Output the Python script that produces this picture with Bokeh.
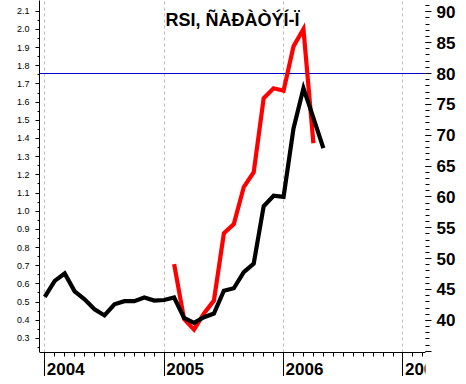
from bokeh.plotting import figure
from bokeh.layouts import column
from bokeh.models import (Range1d, LinearAxis, FixedTicker, Span, Label, Grid,
                          PrintfTickFormatter)
from bokeh.core.properties import value
from bokeh.embed import file_html
from bokeh.resources import INLINE

# ---- data ----
title_text = "RSI, ÑÀÐÀÒÝÍ-Ï"

months = ["2004-01", "2004-02", "2004-03", "2004-04", "2004-05", "2004-06",
          "2004-07", "2004-08", "2004-09", "2004-10", "2004-11", "2004-12",
          "2005-01", "2005-02", "2005-03", "2005-04", "2005-05", "2005-06",
          "2005-07", "2005-08", "2005-09", "2005-10", "2005-11", "2005-12",
          "2006-01", "2006-02", "2006-03", "2006-04", "2006-05"]
rsi_black = [43.8, 46.4, 47.6, 44.7, 43.4, 41.8, 40.8, 42.6, 43.1, 43.1,
             43.7, 43.2, 43.3, 43.7, 40.4, 39.6, 40.5, 41.1, 44.8, 45.2,
             47.8, 49.2, 58.5, 60.2, 60.0, 71.1, 77.6, 72.8, 67.9]

red_months = ["2005-02", "2005-03", "2005-04", "2005-05", "2005-06",
              "2005-07", "2005-08", "2005-09", "2005-10", "2005-11",
              "2005-12", "2006-01", "2006-02", "2006-03", "2006-04"]
rsi_red = [49.1, 40.2, 38.5, 41.1, 43.2, 54.1, 55.6, 61.6, 64.0, 76.0,
           77.6, 77.2, 84.4, 87.2, 68.7]

level_line = 80
years = ["2004", "2005", "2006", "2007"]
right_ticks = [35, 40, 45, 50, 55, 60, 65, 70, 75, 80, 85, 90]
right_labels = ["", "40", "45", "50", "55", "60", "65", "70", "75", "80", "85", "90"]
left_ticks = [0.3, 0.4, 0.5, 0.6, 0.7, 0.8, 0.9, 1.0, 1.1, 1.2, 1.3, 1.4,
              1.5, 1.6, 1.7, 1.8, 1.9, 2.0, 2.1]


def midx(s):
    y, m = s.split("-")
    return (int(y) - 2004) * 12 + int(m) - 1


xb = [midx(m) for m in months]
xr = [midx(m) for m in red_months]
year_idx = [(int(y) - 2004) * 12 for y in years]
month_ticks = list(range(0, 39))

FONT = "Liberation Sans"
W = 458
XR = Range1d(-0.531, 38.266)
BL, BR = 39, 32

p = figure(width=W, height=352, output_backend="svg", toolbar_location=None,
           title=None,
           x_range=XR, y_range=Range1d(34.79, 91.83),
           x_axis_type=None, y_axis_type=None,
           min_border_left=BL, min_border_right=BR, min_border_top=0,
           min_border_bottom=0, outline_line_color=None,
           background_fill_color="white", border_fill_color="white")
p.extra_y_ranges = {"left": Range1d(0.2227, 2.1589)}

# vertical dashed grid at year starts
p.add_layout(Grid(dimension=0, ticker=FixedTicker(ticks=year_idx),
                  grid_line_color="#BBBBBB", grid_line_dash="3 3",
                  grid_line_width=1))

# horizontal level line
p.add_layout(Span(location=level_line, dimension="width", line_color="#0000CC",
                  line_width=1, level="underlay"))

# left axis
minor_left = [round(0.25 + 0.05 * k, 2) for k in range(0, 38)]
laxis = LinearAxis(y_range_name="left",
                   ticker=FixedTicker(ticks=left_ticks, minor_ticks=minor_left),
                   formatter=PrintfTickFormatter(format="%.1f"),
                   major_tick_out=4, major_tick_in=0, minor_tick_out=2,
                   minor_tick_in=0, major_label_standoff=6,
                   major_label_text_font=FONT, major_label_text_font_size="9px",
                   major_label_text_color="black",
                   axis_line_color="black", major_tick_line_color="black",
                   minor_tick_line_color="black")
p.add_layout(laxis, "left")

# right axis
raxis = LinearAxis(ticker=FixedTicker(ticks=right_ticks, minor_ticks=list(range(35, 92))),
                   major_label_overrides=dict(zip(right_ticks, right_labels)),
                   major_tick_out=6, major_tick_in=0, minor_tick_out=4,
                   minor_tick_in=0, major_label_standoff=5,
                   major_label_text_font=FONT, major_label_text_font_size="17px",
                   major_label_text_font_style="bold",
                   major_label_text_color="black",
                   axis_line_color=None, major_tick_line_color="black",
                   minor_tick_line_color="black")
p.add_layout(raxis, "right")

# series
p.line(xr, rsi_red, line_color="#FF0000", line_width=4.2, line_join="miter")
p.line(xb, rsi_black, line_color="#000000", line_width=4.2, line_join="miter")

# title
p.add_layout(Label(x=(XR.start + XR.end) / 2, y=p.y_range.end - 3.24,
                   text=title_text, text_align="center", text_baseline="alphabetic",
                   text_font=FONT, text_font_style="bold", text_font_size="18px",
                   text_color="black"))

# time axis strip: axis line on top, month ticks and long year ticks pointing down
s = figure(width=W, height=24, output_backend="svg", toolbar_location=None,
           title=None,
           x_range=XR, y_range=Range1d(0, 1),
           x_axis_type=None, y_axis_type=None,
           min_border_left=BL, min_border_right=BR, min_border_top=0,
           min_border_bottom=0, outline_line_color=None,
           background_fill_color="white", border_fill_color="white")
xaxis = LinearAxis(ticker=FixedTicker(ticks=year_idx, minor_ticks=month_ticks),
                   major_tick_out=0, major_tick_in=24, minor_tick_out=0,
                   minor_tick_in=4, major_label_standoff=0,
                   major_label_text_color=None,
                   axis_line_color="black", major_tick_line_color="black",
                   minor_tick_line_color="black")
s.add_layout(xaxis, "above")
s.text(x=year_idx, y=[1] * len(years), text=years, x_offset=2, y_offset=16,
       text_align="left", text_baseline="alphabetic",
       text_font=value(FONT), text_font_style="bold", text_font_size="17px",
       text_color="black")

layout = column(p, s, spacing=0)
open("out.html", "w").write(file_html(layout, INLINE))
